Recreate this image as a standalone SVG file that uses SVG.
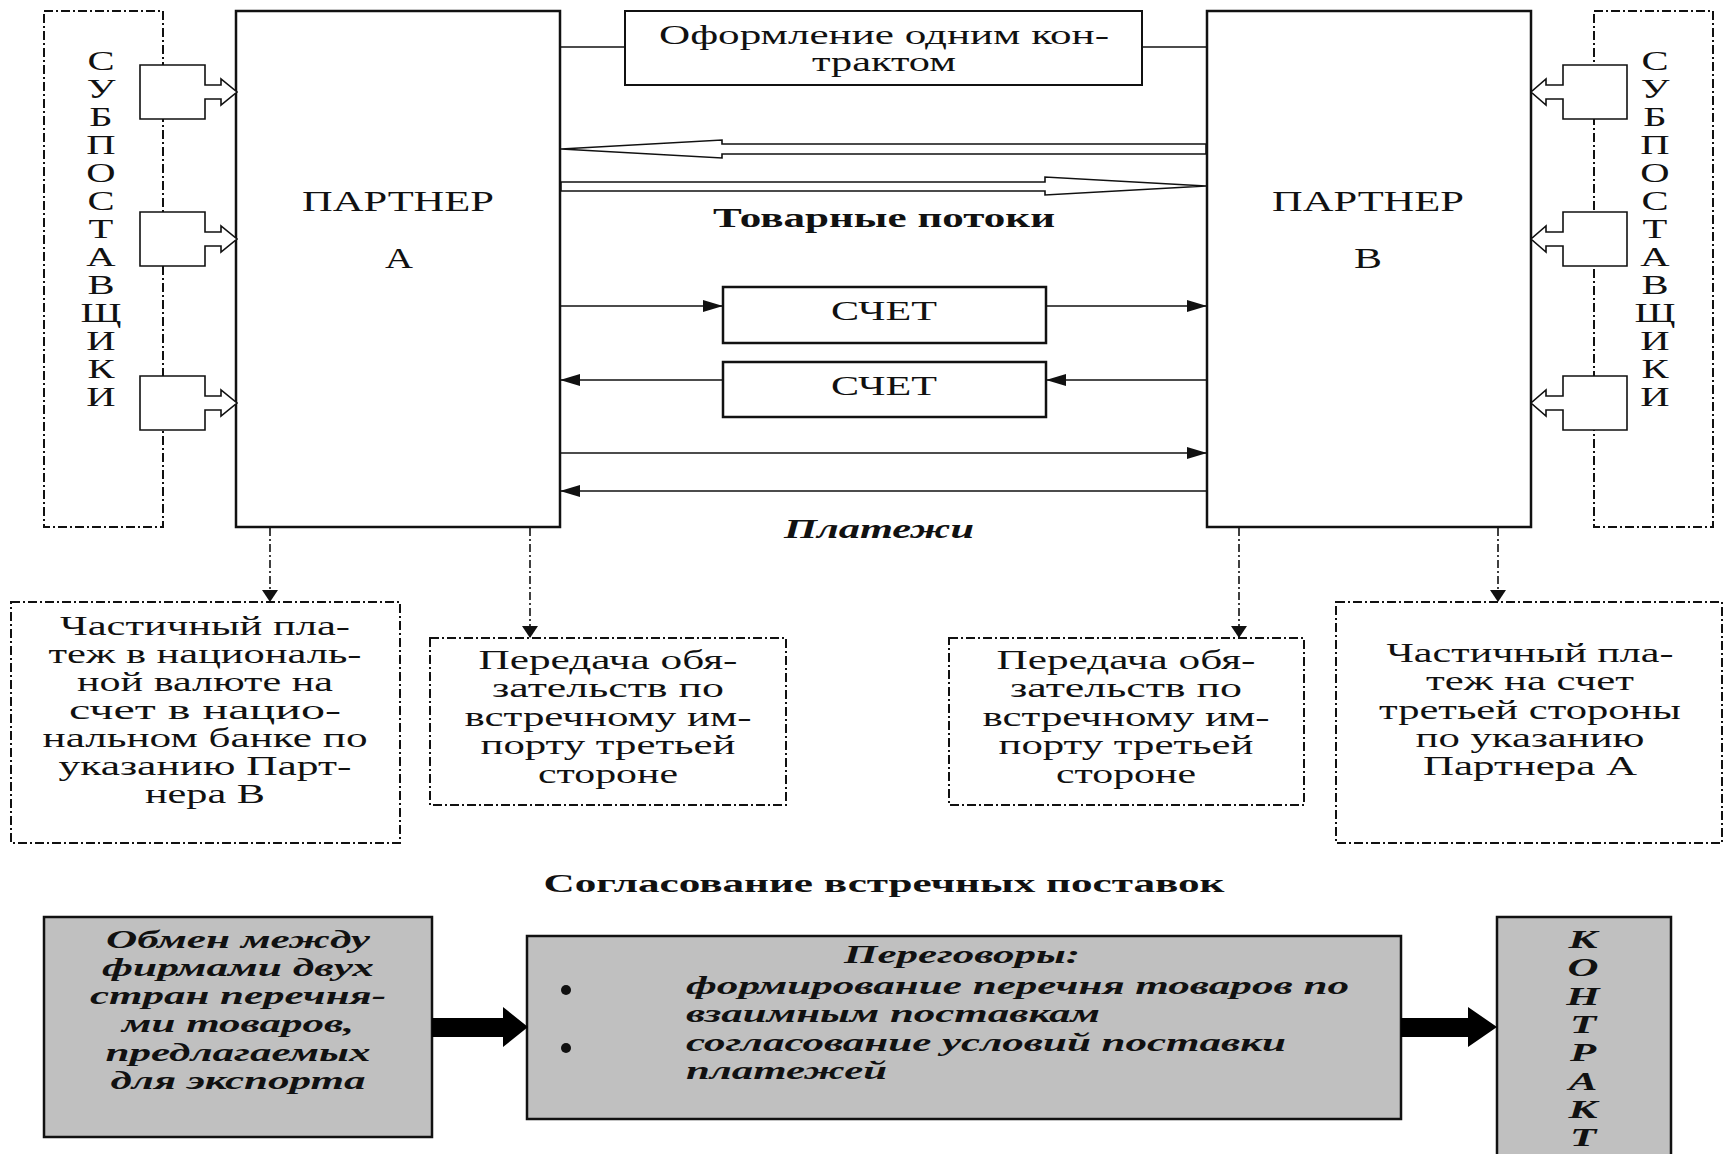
<svg xmlns="http://www.w3.org/2000/svg" width="1730" height="1154" viewBox="0 0 1730 1154">
<style>
.t{font-family:"Liberation Serif","Times New Roman",serif;fill:#111}
.b{font-weight:bold}
.i{font-style:italic}
.box{fill:#fff;stroke:#111;stroke-width:2.5}
.dd{fill:none;stroke:#111;stroke-width:2;stroke-dasharray:9 3 2 3}
.ddl{fill:none;stroke:#111;stroke-width:1.6;stroke-dasharray:8 3 2 3}
.ln{stroke:#111;stroke-width:1.6;fill:none}
.hollow{fill:#fff;stroke:#111;stroke-width:1.6}
.gray{fill:#c0c0c0;stroke:#111;stroke-width:2.5}
.blk{fill:#000}
</style>
<defs>
<marker id="ah" viewBox="0 0 20 12" refX="20" refY="6" markerWidth="20" markerHeight="12" markerUnits="userSpaceOnUse" orient="auto"><path d="M0,0L20,6L0,12z" fill="#111"/></marker>
<marker id="ahd" viewBox="0 0 12 16" refX="12" refY="8" markerWidth="12" markerHeight="16" markerUnits="userSpaceOnUse" orient="auto"><path d="M0,0L12,8L0,16z" fill="#111"/></marker>
</defs>
<rect width="1730" height="1154" fill="#fff"/>

<g id="suppliersA">
<rect class="dd" x="44" y="11" width="119" height="516"/>
<g class="t" font-size="28" text-anchor="middle" transform="translate(101,0) scale(1.45,1)">
<text x="0" y="70">С</text><text x="0" y="98">У</text><text x="0" y="126">Б</text><text x="0" y="154">П</text><text x="0" y="182">О</text><text x="0" y="210">С</text><text x="0" y="238">Т</text><text x="0" y="266">А</text><text x="0" y="294">В</text><text x="0" y="322">Щ</text><text x="0" y="350">И</text><text x="0" y="378">К</text><text x="0" y="406">И</text>
</g>
</g>

<g id="suppliersB">
<rect class="dd" x="1594" y="11" width="119" height="516"/>
<g class="t" font-size="28" text-anchor="middle" transform="translate(1655,0) scale(1.45,1)">
<text x="0" y="70">С</text><text x="0" y="98">У</text><text x="0" y="126">Б</text><text x="0" y="154">П</text><text x="0" y="182">О</text><text x="0" y="210">С</text><text x="0" y="238">Т</text><text x="0" y="266">А</text><text x="0" y="294">В</text><text x="0" y="322">Щ</text><text x="0" y="350">И</text><text x="0" y="378">К</text><text x="0" y="406">И</text>
</g>
</g>

<g id="partnerA">
<rect class="box" x="236" y="11" width="324" height="516"/>
<text class="t" x="398" y="211" font-size="29" text-anchor="middle" textLength="192" lengthAdjust="spacingAndGlyphs">ПАРТНЕР</text>
<text class="t" x="399" y="268" font-size="29" text-anchor="middle" textLength="28" lengthAdjust="spacingAndGlyphs">А</text>
</g>

<g id="partnerB">
<rect class="box" x="1207" y="11" width="324" height="516"/>
<text class="t" x="1368" y="211" font-size="29" text-anchor="middle" textLength="192" lengthAdjust="spacingAndGlyphs">ПАРТНЕР</text>
<text class="t" x="1368" y="268" font-size="29" text-anchor="middle" textLength="28" lengthAdjust="spacingAndGlyphs">В</text>
</g>

<g id="contract">
<rect class="box" x="625" y="11" width="517" height="74" style="stroke-width:2"/>
<text class="t" x="884" y="44" font-size="28" text-anchor="middle" textLength="450" lengthAdjust="spacingAndGlyphs">Оформление одним кон-</text>
<text class="t" x="884" y="71" font-size="28" text-anchor="middle" textLength="144" lengthAdjust="spacingAndGlyphs">трактом</text>
</g>

<g id="invoice1">
<rect class="box" x="723" y="287" width="323" height="56"/>
<text class="t" x="884" y="320" font-size="27" text-anchor="middle" textLength="106" lengthAdjust="spacingAndGlyphs">СЧЕТ</text>
</g>
<g id="invoice2">
<rect class="box" x="723" y="362" width="323" height="55"/>
<text class="t" x="884" y="395" font-size="27" text-anchor="middle" textLength="106" lengthAdjust="spacingAndGlyphs">СЧЕТ</text>
</g>

<g id="labels">
<text class="t b" x="884" y="227" font-size="28" text-anchor="middle" textLength="342" lengthAdjust="spacingAndGlyphs">Товарные потоки</text>
<text class="t b i" x="879" y="538" font-size="28" text-anchor="middle" textLength="190" lengthAdjust="spacingAndGlyphs">Платежи</text>
<text class="t b" x="884" y="892" font-size="25" text-anchor="middle" textLength="681" lengthAdjust="spacingAndGlyphs">Согласование встречных поставок</text>
</g>

<g id="box1">
<rect class="dd" x="11" y="602" width="389" height="241"/>
<g class="t" font-size="27" text-anchor="middle">
<text x="205" y="635" textLength="290" lengthAdjust="spacingAndGlyphs">Частичный пла-</text>
<text x="205" y="663" textLength="313" lengthAdjust="spacingAndGlyphs">теж в националь-</text>
<text x="205" y="691" textLength="256" lengthAdjust="spacingAndGlyphs">ной валюте на</text>
<text x="205" y="719" textLength="272" lengthAdjust="spacingAndGlyphs">счет в нацио-</text>
<text x="205" y="747" textLength="325" lengthAdjust="spacingAndGlyphs">нальном банке по</text>
<text x="205" y="775" textLength="293" lengthAdjust="spacingAndGlyphs">указанию Парт-</text>
<text x="205" y="803" textLength="120" lengthAdjust="spacingAndGlyphs">нера В</text>
</g>
</g>

<g id="box2">
<rect class="dd" x="430" y="638" width="356" height="167"/>
<g class="t" font-size="27" text-anchor="middle">
<text x="608" y="669" textLength="259" lengthAdjust="spacingAndGlyphs">Передача обя-</text>
<text x="608" y="697" textLength="232" lengthAdjust="spacingAndGlyphs">зательств по</text>
<text x="608" y="726" textLength="287" lengthAdjust="spacingAndGlyphs">встречному им-</text>
<text x="608" y="754" textLength="255" lengthAdjust="spacingAndGlyphs">порту третьей</text>
<text x="608" y="783" textLength="140" lengthAdjust="spacingAndGlyphs">стороне</text>
</g>
</g>

<g id="box3">
<rect class="dd" x="949" y="638" width="355" height="167"/>
<g class="t" font-size="27" text-anchor="middle">
<text x="1126" y="669" textLength="259" lengthAdjust="spacingAndGlyphs">Передача обя-</text>
<text x="1126" y="697" textLength="232" lengthAdjust="spacingAndGlyphs">зательств по</text>
<text x="1126" y="726" textLength="287" lengthAdjust="spacingAndGlyphs">встречному им-</text>
<text x="1126" y="754" textLength="255" lengthAdjust="spacingAndGlyphs">порту третьей</text>
<text x="1126" y="783" textLength="140" lengthAdjust="spacingAndGlyphs">стороне</text>
</g>
</g>

<g id="box4">
<rect class="dd" x="1336" y="602" width="386" height="241"/>
<g class="t" font-size="27" text-anchor="middle">
<text x="1530" y="662" textLength="287" lengthAdjust="spacingAndGlyphs">Частичный пла-</text>
<text x="1530" y="690" textLength="208" lengthAdjust="spacingAndGlyphs">теж на счет</text>
<text x="1530" y="719" textLength="302" lengthAdjust="spacingAndGlyphs">третьей стороны</text>
<text x="1530" y="747" textLength="229" lengthAdjust="spacingAndGlyphs">по указанию</text>
<text x="1530" y="775" textLength="214" lengthAdjust="spacingAndGlyphs">Партнера А</text>
</g>
</g>

<g id="exchange">
<rect class="gray" x="44" y="917" width="388" height="220"/>
<g class="t b i" font-size="26" text-anchor="middle">
<text x="238" y="948" textLength="264" lengthAdjust="spacingAndGlyphs">Обмен между</text>
<text x="238" y="976" textLength="272" lengthAdjust="spacingAndGlyphs">фирмами двух</text>
<text x="238" y="1004" textLength="296" lengthAdjust="spacingAndGlyphs">стран перечня-</text>
<text x="238" y="1032" textLength="232" lengthAdjust="spacingAndGlyphs">ми товаров,</text>
<text x="238" y="1061" textLength="265" lengthAdjust="spacingAndGlyphs">предлагаемых</text>
<text x="238" y="1089" textLength="255" lengthAdjust="spacingAndGlyphs">для экспорта</text>
</g>
</g>

<g id="negotiations">
<rect class="gray" x="527" y="936" width="874" height="183"/>
<g class="t b i" font-size="26">
<text x="844" y="963" textLength="236" lengthAdjust="spacingAndGlyphs">Переговоры:</text>
<text x="686" y="994" textLength="663" lengthAdjust="spacingAndGlyphs">формирование перечня товаров по</text>
<text x="686" y="1022" textLength="414" lengthAdjust="spacingAndGlyphs">взаимным поставкам</text>
<text x="686" y="1051" textLength="600" lengthAdjust="spacingAndGlyphs">согласование условий поставки</text>
<text x="686" y="1079" textLength="201" lengthAdjust="spacingAndGlyphs">платежей</text>
</g>
<circle cx="566" cy="990" r="5" fill="#111"/>
<circle cx="566" cy="1048" r="5" fill="#111"/>
</g>

<g id="contractFinal">
<rect class="gray" x="1497" y="917" width="174" height="260"/>
<g class="t b i" font-size="26" text-anchor="middle" transform="translate(1583,0) scale(1.65,1)">
<text x="0" y="948">К</text><text x="0" y="976">О</text><text x="0" y="1005">Н</text><text x="0" y="1033">Т</text><text x="0" y="1061">Р</text><text x="0" y="1090">А</text><text x="0" y="1118">К</text><text x="0" y="1146">Т</text>
</g>
</g>

<g id="connectors">
<path class="box" style="stroke-width:1.6" d="M140,65H205V85H221V79L237,92L221,105V99H205V119H140Z"/>
<path class="box" style="stroke-width:1.6" d="M140,212H205V232H221V226L237,239L221,252V246H205V266H140Z"/>
<path class="box" style="stroke-width:1.6" d="M140,376H205V396H221V390L237,403L221,416V410H205V430H140Z"/>
<path class="box" style="stroke-width:1.6" d="M1627,65H1563V85H1546V79L1531,92L1546,105V99H1563V119H1627Z"/>
<path class="box" style="stroke-width:1.6" d="M1627,212H1563V232H1546V226L1531,239L1546,252V246H1563V266H1627Z"/>
<path class="box" style="stroke-width:1.6" d="M1627,376H1563V396H1546V390L1531,403L1546,416V410H1563V430H1627Z"/>
<line class="ln" x1="560" y1="47" x2="625" y2="47"/>
<line class="ln" x1="1142" y1="47" x2="1207" y2="47"/>
<polygon class="hollow" points="561,149 722,140 722,144 1206,144 1206,154 722,154 722,158"/>
<polygon class="hollow" points="561,182 1045,182 1045,177 1206,186 1045,195 1045,191 561,191"/>
<line class="ln" x1="560" y1="306" x2="723" y2="306" marker-end="url(#ah)"/>
<line class="ln" x1="1046" y1="306" x2="1207" y2="306" marker-end="url(#ah)"/>
<line class="ln" x1="723" y1="380" x2="560" y2="380" marker-end="url(#ah)"/>
<line class="ln" x1="1207" y1="380" x2="1046" y2="380" marker-end="url(#ah)"/>
<line class="ln" x1="560" y1="453" x2="1207" y2="453" marker-end="url(#ah)"/>
<line class="ln" x1="1207" y1="491" x2="560" y2="491" marker-end="url(#ah)"/>
<line class="ddl" x1="270" y1="528" x2="270" y2="602" marker-end="url(#ahd)"/>
<line class="ddl" x1="530" y1="528" x2="530" y2="638" marker-end="url(#ahd)"/>
<line class="ddl" x1="1239" y1="528" x2="1239" y2="638" marker-end="url(#ahd)"/>
<line class="ddl" x1="1498" y1="528" x2="1498" y2="602" marker-end="url(#ahd)"/>
<polygon class="blk" points="432,1018 503,1018 503,1007 528,1027 503,1047 503,1037 432,1037"/>
<polygon class="blk" points="1401,1018 1468,1018 1468,1007 1497,1027 1468,1047 1468,1037 1401,1037"/>
</g>
</svg>
